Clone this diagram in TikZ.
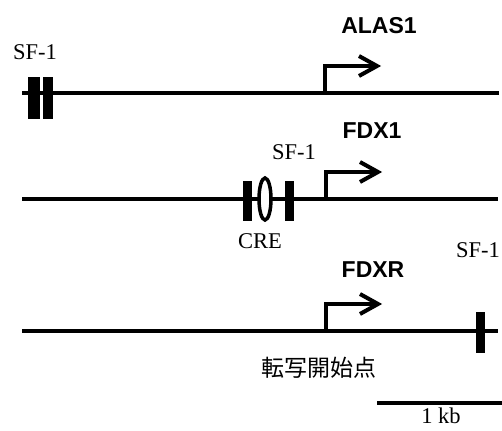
\documentclass[tikz,border=0pt]{standalone}
\usepackage{fontspec}
\setmainfont{Liberation Serif}
\setsansfont{Liberation Sans}
\newfontfamily\cjk{Noto Sans CJK JP}
\begin{document}
\begin{tikzpicture}[x=1pt,y=-1pt,
  gene/.style={line width=4pt},
  serif/.style={font=\fontsize{22.5}{24}\selectfont, inner sep=0pt},
  genename/.style={font=\sffamily\bfseries\fontsize{23}{26}\selectfont, inner sep=0pt},
  jp/.style={font=\cjk\fontsize{23}{26}\selectfont, inner sep=0pt},
  tss/.pic={
    \draw[gene, line join=miter] (0,0) |- (51,-27);
    \draw[gene, line join=miter] (34,-37) -- (52,-27) -- (34,-17);
  }]
\useasboundingbox (0,0) rectangle (502,430);

% gene lines
\coordinate (l1s) at (22,93);  \coordinate (l1e) at (499,93);
\coordinate (l2s) at (22,199); \coordinate (l2e) at (498,199);
\coordinate (l3s) at (22,331); \coordinate (l3e) at (498,331);
\draw[gene] (l1s) -- (l1e);
\draw[gene] (l2s) -- (l2e);
\draw[gene] (l3s) -- (l3e);

% ALAS1
\fill (28,77) rectangle (40,119);
\fill (43,77) rectangle (53,119);
\pic at (325,93) {tss};
\node[serif] (sf1a) at (35,52) {SF-1};
\node[genename] (alas1) at (379,26) {ALAS1};

% FDX1
\fill (243,181) rectangle (252,221);
\fill (285,181) rectangle (294,221);
\draw[line width=3.5pt, fill=white] (265,199) ellipse (6 and 21);
\pic at (326,199) {tss};
\node[serif] (sf1b) at (294,152) {SF-1};
\node[serif] (cre) at (260,241) {CRE};
\node[genename] (fdx1) at (372,131) {FDX1};

% FDXR
\fill (476,312) rectangle (485,353);
\pic at (326,331) {tss};
\node[serif] (sf1c) at (478,250) {SF-1};
\node[genename] (fdxr) at (373,270) {FDXR};
\node[jp] (tsslabel) at (319,368) {転写開始点};

% scale bar
\coordinate (sbs) at (377,403); \coordinate (sbe) at (502,403);
\draw[gene] (sbs) -- (sbe);
\node[serif] (kb) at (441,416) {1 kb};
\end{tikzpicture}
\end{document}
